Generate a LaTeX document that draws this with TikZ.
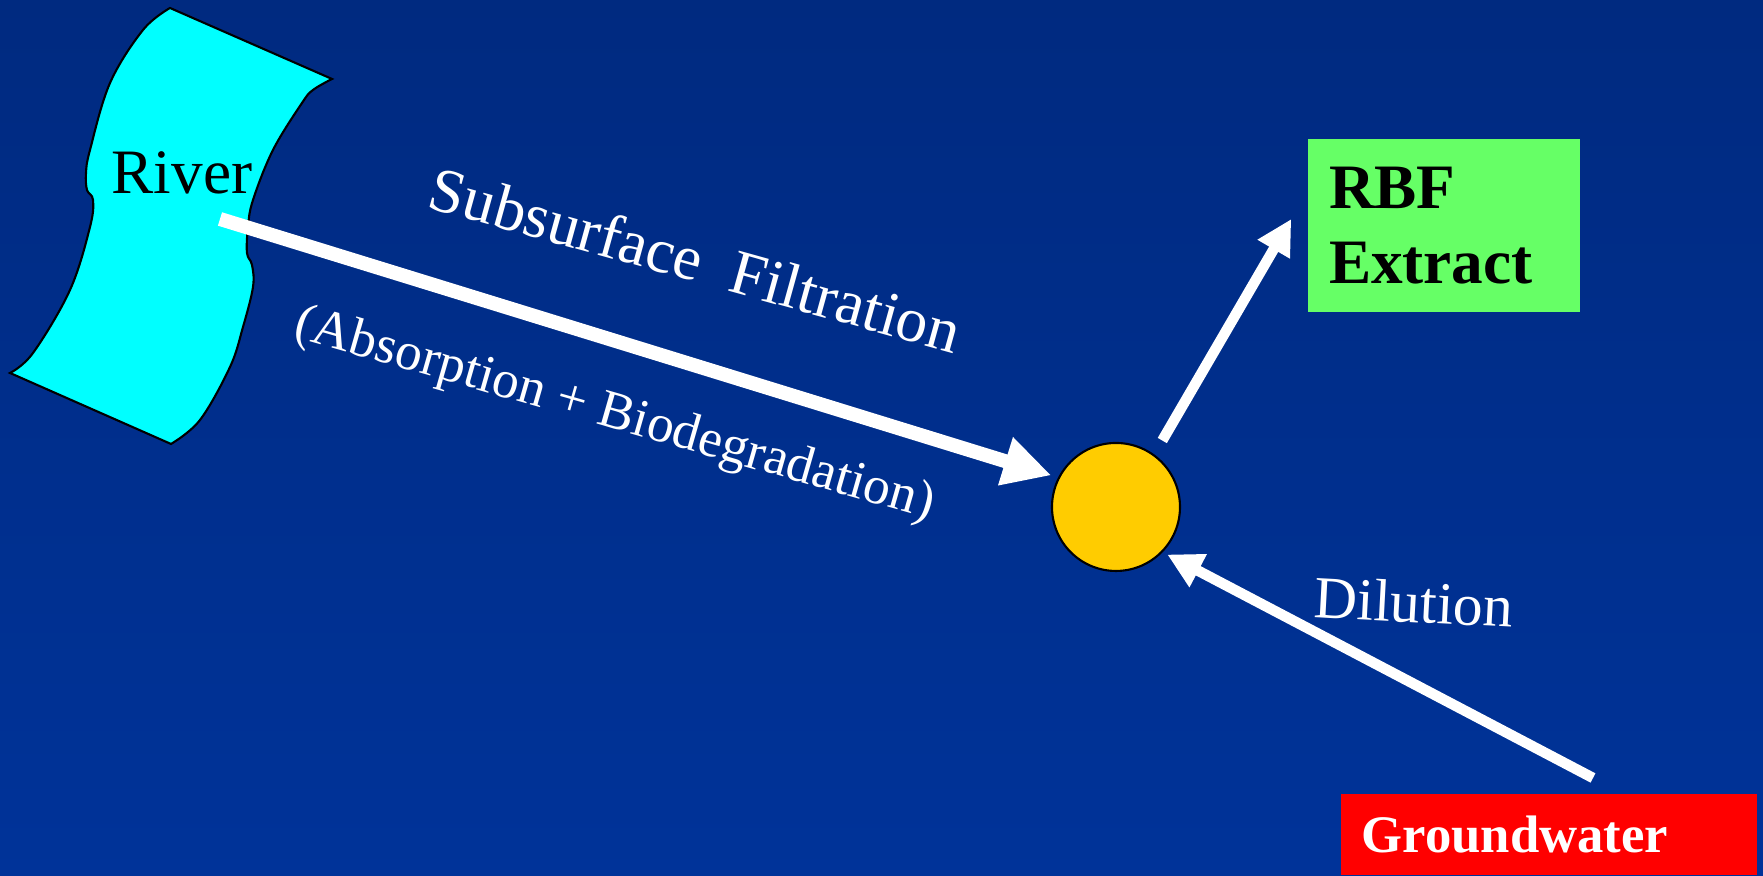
\documentclass[tikz,border=0pt]{standalone}
\usepackage{fontspec}
\setmainfont{Liberation Serif}
\usepackage{xcolor}
\usepackage{tikz}
\usetikzlibrary{calc, arrows.meta}

\definecolor{bgtop}{HTML}{002A80}
\definecolor{bgbot}{HTML}{003399}
\definecolor{riverfill}{HTML}{00FFFF}
\definecolor{mixfill}{HTML}{FFCC00}
\definecolor{rbffill}{HTML}{66FF66}

\begin{document}
\begin{tikzpicture}[
    flow/.style={white, line width=0.105cm, -{Triangle[length=0.35cm, width=0.35cm]}},
    bigflow/.style={white, line width=0.14cm, -{Triangle[length=0.48cm, width=0.47cm]}},
    lbl/.style={white, inner sep=0pt},
    riverpatch/.style={fill=riverfill, draw=black, line width=0.6pt},
    mixpoint/.style={circle, fill=mixfill, draw=black, line width=0.6pt, minimum size=1.28cm, inner sep=0pt},
    outbox/.style={fill=rbffill, text=black, align=left, inner xsep=0.21cm},
    gwbox/.style={fill=red, text=white, align=left, inner xsep=0.21cm},
  ]
			\def\W{17.63};
			\def\H{8.76};

			\shade[top color=bgtop, bottom color=bgbot] (0,0) rectangle (\W,\H);
			\useasboundingbox (0,0) rectangle (\W,\H);

			\begin{scope}
				\filldraw[riverpatch] (1.70,8.68) -- (3.32,7.97)
					-- plot[smooth, tension=0.6] coordinates {(3.32,7.97) (3.13,7.86) (3.02,7.73) (2.73,7.26) (2.53,6.76) (2.48,6.49) (2.47,6.23) (2.52,6.11) (2.53,5.89) (2.43,5.49) (2.30,5.09) (2.00,4.56) (1.71,4.32)}
					-- (0.10,5.03)
					-- plot[smooth, tension=0.6] coordinates {(0.10,5.03) (0.33,5.23) (0.70,5.86) (0.90,6.49) (0.93,6.76) (0.87,6.86) (0.86,7.03) (0.90,7.26) (1.10,7.93) (1.43,8.46) (1.70,8.68)}
					-- cycle;
				\node[anchor=base, inner sep=0pt, font=\fontsize{18}{21}\selectfont] (river) at (1.82,6.82) {River};
			\end{scope}

			\node[mixpoint] (pt) at (11.16,3.69) {};
			\node[outbox, text width=2.30cm, minimum height=1.73cm, font=\fontsize{18}{21.5}\selectfont\bfseries] (rbf) at (14.44,6.505) {RBF\\Extract};
			\node[gwbox, text width=3.74cm, minimum height=0.81cm, anchor=south west, font=\fontsize{15}{18}\selectfont\bfseries] (gw) at (13.40,0) {Groundwater};

			\coordinate (src) at (2.20,6.57);
			\coordinate (rbfin) at ($(rbf.west)+(-0.16,0.065)$);
			\coordinate (gwout) at (15.93,0.98);

			\draw[bigflow, shorten >=0.07cm] (src) -- (pt.153);
			\draw[flow, shorten <=0.16cm] (pt.54) -- (rbfin);
			\draw[flow, shorten >=0.05cm] (gwout) -- (pt.-44);

			\begin{scope}[lbl]
				\node[anchor=base west, rotate=-15.5, font=\fontsize{18}{21}\selectfont] (filt) at (4.25,6.69) {Subsurface~ Filtration};
				\node[anchor=base, rotate=-16, font=\fontsize{15.2}{18}\selectfont] (proc) at (6.11,4.48) {(Absorption + Biodegradation)};
				\node[anchor=base west, rotate=-3, font=\fontsize{17}{20}\selectfont] (dil) at (13.13,2.59) {Dilution};
			\end{scope}
		\end{tikzpicture}
\end{document}
